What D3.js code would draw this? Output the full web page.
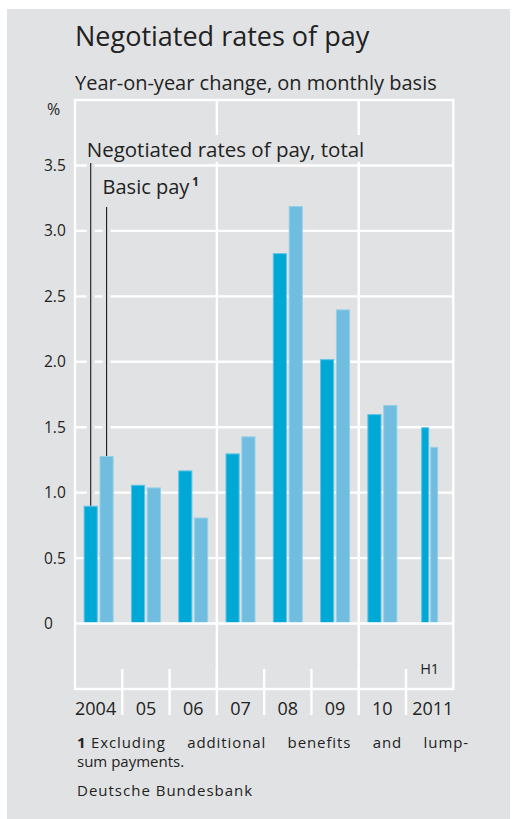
<!DOCTYPE html>
<html>
<head>
<meta charset="utf-8">
<script src="https://cdn.jsdelivr.net/npm/d3@7"></script>
<style>
  body { margin: 0; background: #fff; }
  svg { display: block; font-family: "Open Sans", sans-serif; }
</style>
</head>
<body>
<div id="chart"></div>
<script>
// data
const years = ["2004", "05", "06", "07", "08", "09", "10", "2011"];
const totalPay = [0.90, 1.06, 1.17, 1.30, 2.83, 2.02, 1.60, 1.50];
const basicPay = [1.28, 1.04, 0.81, 1.43, 3.19, 2.40, 1.67, 1.35];
const yTicks = [0, 0.5, 1.0, 1.5, 2.0, 2.5, 3.0, 3.5];
const yTickLabels = ["0", "0.5", "1.0", "1.5", "2.0", "2.5", "3.0", "3.5"];
const seriesNames = ["Negotiated rates of pay, total", "Basic pay"];
const gridAfter = ["06", "09"];
const halfYear = "2011"; // only H1 so far

var width = 515,
    height = 819,
    bg = "#e1e2e4",
    colors = {total: "#00a8d6", basic: "#70bddf"},
    plot = {left: 75, right: 453.3, top: 100, bottom: 689};

var rows = years.map((d, i) => ({year: d, total: totalPay[i], basic: basicPay[i]}));

var svg = d3.select("#chart")
    .append("svg")
    .attr("width", width)
    .attr("height", height);

svg.append("rect")
    .attr("x", 7).attr("y", 9)
    .attr("width", 503).attr("height", 810)
    .attr("fill", bg);

var x0 = d3.scaleBand().domain(years).range([plot.left, plot.right]);
var x1 = d3.scaleBand().domain(["total", "basic"]).range([-15, 15]).paddingInner(0.11);
var x1h = d3.scaleBand().domain(["total", "basic"]).range([-8.5, 8.5]).paddingInner(0.11);
var y = d3.scaleLinear().domain([-0.5, 4]).range([plot.bottom, plot.top]);

var mid = d => x0(d) + x0.bandwidth() / 2;
var sub = d => d === halfYear ? x1h : x1;

// white grid
var grid = svg.append("g").attr("stroke", "#fff").attr("stroke-width", 2.4);

grid.selectAll(".hline")
    .data(yTicks.filter(d => d !== 0))
    .enter().append("line")
    .attr("x1", plot.left).attr("x2", plot.right)
    .attr("y1", d => y(d)).attr("y2", d => y(d));

grid.selectAll(".vline")
    .data(gridAfter)
    .enter().append("line")
    .attr("x1", d => x0(d) + x0.bandwidth()).attr("x2", d => x0(d) + x0.bandwidth())
    .attr("y1", plot.top).attr("y2", plot.bottom);

// halos behind the leader lines
var leaders = [
    {key: "total", top: 163},
    {key: "basic", top: 207}
];
var lx = d => mid(years[0]) + x1(d.key) + x1.bandwidth() / 2;

svg.selectAll(".halo")
    .data(leaders)
    .enter().append("line")
    .attr("x1", lx).attr("x2", lx)
    .attr("y1", d => d.top).attr("y2", d => y(rows[0][d.key]) - 1)
    .attr("stroke", bg).attr("stroke-width", 8);

// bars
var group = svg.selectAll(".year")
    .data(rows)
    .enter().append("g")
    .attr("class", "year")
    .attr("transform", d => `translate(${mid(d.year)},0)`);

["total", "basic"].forEach(key => {
    group.append("rect")
        .attr("x", d => sub(d.year)(key) + 0.5)
        .attr("y", d => y(d[key]) + 0.5)
        .attr("width", d => sub(d.year).bandwidth() - 1)
        .attr("height", d => y(0) - y(d[key]) - 1)
        .attr("fill", colors[key])
        .attr("stroke", key === "total" ? "#5cc3e6" : "#96cfe8")
        .attr("stroke-width", 1);
});

// zero line, frame and year separators on top of bars
var frame = svg.append("g").attr("stroke", "#fff").attr("stroke-width", 2.4).attr("fill", "none");
frame.append("line")
    .attr("x1", plot.left).attr("x2", plot.right)
    .attr("y1", y(0)).attr("y2", y(0));
frame.append("rect")
    .attr("x", plot.left).attr("y", plot.top)
    .attr("width", plot.right - plot.left).attr("height", plot.bottom - plot.top);
frame.selectAll(".sep")
    .data(years.slice(0, -1))
    .enter().append("line")
    .attr("x1", d => x0(d) + x0.bandwidth()).attr("x2", d => x0(d) + x0.bandwidth())
    .attr("y1", plot.bottom - 20).attr("y2", plot.bottom + 26);

// leader lines
svg.selectAll(".leader")
    .data(leaders)
    .enter().append("line")
    .attr("x1", lx).attr("x2", lx)
    .attr("y1", d => d.top).attr("y2", d => y(rows[0][d.key]))
    .attr("stroke", "#1a1a1a").attr("stroke-width", 1.1);

// legend labels
var legendBg = svg.append("rect").attr("fill", bg);
var leg1 = svg.append("text")
    .attr("x", lx(leaders[0]) - 4).attr("y", 157)
    .attr("font-size", 20.5).attr("fill", "#222")
    .text(seriesNames[0]);
var bb = leg1.node().getBBox();
legendBg.attr("x", bb.x - 2).attr("y", bb.y).attr("width", bb.width + 4).attr("height", 162 - bb.y);

var leg2 = svg.append("text")
    .attr("x", lx(leaders[1]) - 4).attr("y", 194)
    .attr("font-size", 20).attr("fill", "#222")
    .text(seriesNames[1]);
leg2.append("tspan")
    .attr("dx", 3).attr("dy", -8)
    .attr("font-size", 11.5).attr("font-weight", "bold")
    .text("1");

// titles
svg.append("text")
    .attr("x", 75).attr("y", 46)
    .attr("font-size", 27).attr("fill", "#222")
    .text("Negotiated rates of pay");
svg.append("text")
    .attr("x", 75).attr("y", 90)
    .attr("font-size", 20).attr("fill", "#222")
    .text("Year-on-year change, on monthly basis");
svg.append("text")
    .attr("x", 47).attr("y", 115)
    .attr("font-size", 16).attr("fill", "#222")
    .text("%");

// y tick labels
svg.selectAll(".ytick")
    .data(yTicks)
    .enter().append("text")
    .attr("x", 44)
    .attr("y", d => y(d) + 5.5)
    .attr("font-size", 15.5).attr("fill", "#222")
    .text((d, i) => yTickLabels[i]);

// x labels, outer ones kept inside the frame
svg.selectAll(".xlab")
    .data(years)
    .enter().append("text")
    .attr("x", (d, i) => i === 0 ? x0(d) : i === years.length - 1 ? x0(d) + x0.bandwidth() : mid(d))
    .attr("y", plot.bottom + 26)
    .attr("text-anchor", (d, i) => i === 0 ? "start" : i === years.length - 1 ? "end" : "middle")
    .attr("font-size", 18).attr("fill", "#222")
    .text(d => d);

svg.append("text")
    .attr("x", mid(halfYear)).attr("y", plot.bottom - 15)
    .attr("text-anchor", "middle")
    .attr("font-size", 14.5).attr("fill", "#222")
    .text("H1");

// footnote, first line justified
svg.append("text")
    .attr("x", 77).attr("y", 748)
    .attr("font-size", 15).attr("font-weight", "bold").attr("fill", "#222")
    .text("1");
var foot1 = svg.append("text")
    .attr("x", 91).attr("y", 748)
    .attr("font-size", 15).attr("letter-spacing", 0.9).attr("fill", "#222")
    .text("Excluding additional benefits and lump-");
var natural = foot1.node().getComputedTextLength();
foot1.attr("word-spacing", (469 - 91 - natural) / 4);

svg.append("text")
    .attr("x", 77).attr("y", 767)
    .attr("font-size", 15).attr("fill", "#222")
    .text("sum payments.");

svg.append("text")
    .attr("x", 77).attr("y", 796)
    .attr("font-size", 15).attr("letter-spacing", 1).attr("fill", "#222")
    .text("Deutsche Bundesbank");
</script>
</body>
</html>
